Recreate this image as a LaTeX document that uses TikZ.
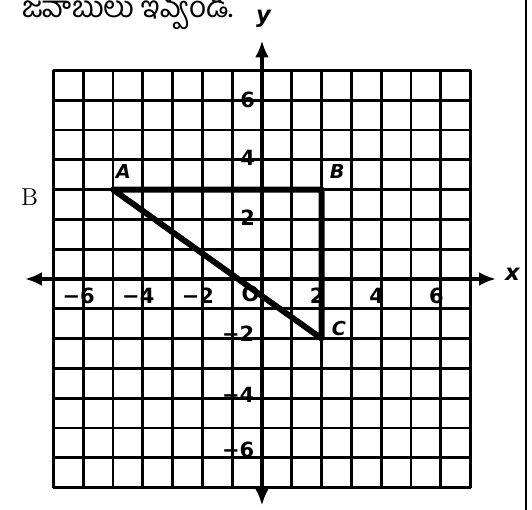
\documentclass[tikz,border=0pt]{standalone}
\usepackage{fontspec}
\usepackage{tikz}
\usetikzlibrary{arrows.meta,positioning}
\newfontfamily\telugufont[Script=Telugu]{Hind Guntur}
\newfontfamily\lblfont{DejaVu Sans}
\tikzset{
  gridline/.style={draw=black, line width=1.6pt},
  axisline/.style={{Latex[length=3.4mm,width=2.8mm]}-{Latex[length=3.4mm,width=2.8mm]}, line width=2.6pt},
  sideline/.style={line width=3.4pt, line cap=round, line join=round},
  ticklbl/.style={font=\lblfont\bfseries\fontsize{12}{13}\selectfont, inner sep=0pt},
  ptlbl/.style={font=\lblfont\bfseries\itshape\fontsize{11}{12}\selectfont, inner sep=0pt},
  axlbl/.style={font=\lblfont\bfseries\itshape\fontsize{13}{14}\selectfont, inner sep=0pt}
}

\begin{document}
\begin{tikzpicture}[x=0.6cm,y=0.6cm]
  \useasboundingbox[fill=white] (-8.79,-7.75) rectangle (9.06,9.36);

  % --- heading and stray label ---
  \node[font=\telugufont\fontsize{17}{19}\selectfont, inner sep=0pt] (head) at (-4.5,9.0) {జవాబులు ఇవ్వండి.};
  \node[font=\fontsize{14}{16}\selectfont, inner sep=0pt] (lblB) at (-7.8,2.75) {B};
  \draw[line width=1.2pt] (8.86,9.36) -- (8.86,-7.75);

  % --- grid ---
  \draw[gridline, step=0.6cm] (-7,-7) grid (7,7);

  % --- axes ---
  \coordinate (xl) at (-7.95,0);
  \coordinate (xr) at (7.85,0);
  \coordinate (yt) at (0,8.0);
  \coordinate (yb) at (0,-7.6);
  \draw[axisline] (xl) -- (xr);
  \draw[axisline] (yb) -- (yt);
  \node[axlbl] (xlbl) at (8.4,0.15) {x};
  \node[axlbl] (ylbl) at (0.05,8.72) {y};

  % --- x labels ---
  \node[ticklbl] (xm6) at (-6.15,-0.57) {−6};
  \node[ticklbl] (xm4) at (-4.15,-0.57) {−4};
  \node[ticklbl] (xm2) at (-2.15,-0.57) {−2};
  \node[ticklbl] (orig) at (-0.38,-0.5) {O};
  \node[ticklbl] (xp2) at (1.85,-0.57) {2};
  \node[ticklbl] (xp4) at (3.85,-0.57) {4};
  \node[ticklbl] (xp6) at (5.85,-0.57) {6};

  % --- y labels ---
  \node[ticklbl, anchor=east] (yp6) at (-0.22,6.0) {6};
  \node[ticklbl, anchor=east] (yp4) at (-0.22,4.05) {4};
  \node[ticklbl, anchor=east] (yp2) at (-0.22,2.05) {2};
  \node[ticklbl, anchor=east] (ym2) at (-0.25,-1.85) {−2};
  \node[ticklbl, anchor=east] (ym4) at (-0.25,-3.9) {−4};
  \node[ticklbl, anchor=east] (ym6) at (-0.25,-5.75) {−6};

  % --- triangle ABC ---
  \coordinate (A) at (-5,3);
  \coordinate (B) at (2,3);
  \coordinate (C) at (2,-2);
  \draw[sideline] (A) -- (B) -- (C) -- cycle;
  \node[ptlbl] (lA) at (-4.65,3.6) {A};
  \node[ptlbl] (lB) at (2.52,3.6) {B};
  \node[ptlbl] (lC) at (2.58,-1.65) {C};

\end{tikzpicture}
\end{document}
